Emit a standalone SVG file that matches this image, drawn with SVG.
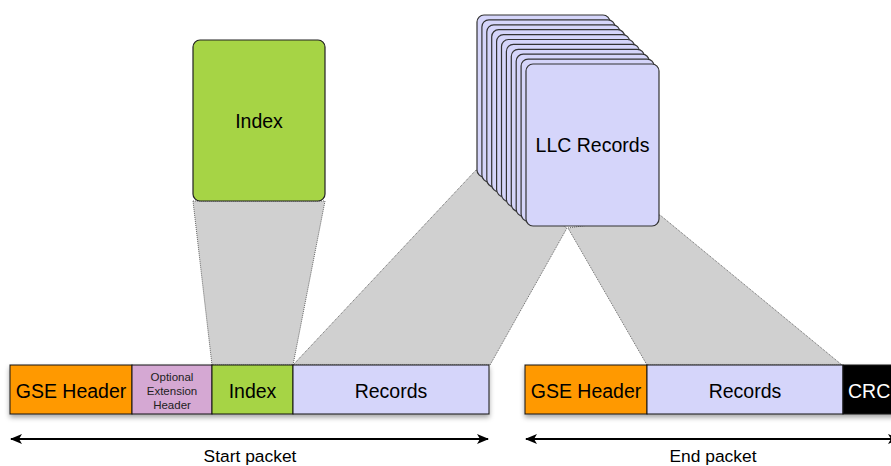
<svg xmlns="http://www.w3.org/2000/svg" width="891" height="466" viewBox="0 0 891 466">
<style>
text{font-family:"Liberation Sans",Arial,sans-serif;fill:#000;text-anchor:middle}
.big{font-size:19.5px}
.small{font-size:11.5px;fill:#222}
.lbl{font-size:17.4px}
.proj{fill:#d0d0d0;stroke:#666;stroke-width:1;stroke-dasharray:1 1}
.seg{stroke:#111;stroke-width:1}
.card{fill:#d5d5fa;stroke:#333;stroke-width:1.2}
.arrow{stroke:#000;stroke-width:2;fill:none}
</style>
<defs>
<filter id="sh" x="-5%" y="-20%" width="110%" height="160%">
<feDropShadow dx="0" dy="3" stdDeviation="2.5" flood-color="#000" flood-opacity="0.35"/>
</filter>
<marker id="ah" viewBox="0 0 12 10" refX="11" refY="5" markerWidth="12" markerHeight="10" markerUnits="userSpaceOnUse" orient="auto-start-reverse">
<path d="M0,0 L12,5 L0,10 L3,5 Z" fill="#000"/>
</marker>
</defs>

<g id="connectors">
<polygon class="proj" points="193,201 325,201 293,365 212,365"/>
<polygon class="proj" points="476,170 567,228 490,365 293,365"/>
<polygon class="proj" points="568,228 660,215 842,365 647,365"/>
</g>

<g id="index-box">
<rect x="193" y="40" width="132" height="161" rx="7" fill="#a6d445" stroke="#222" stroke-width="1.2"/>
<text class="big" x="259" y="128">Index</text>
</g>

<g id="llc-records">
<rect class="card" x="477" y="15" width="133" height="162" rx="7"/>
<rect class="card" x="481.9" y="19.9" width="133" height="162" rx="7"/>
<rect class="card" x="486.8" y="24.8" width="133" height="162" rx="7"/>
<rect class="card" x="491.7" y="29.7" width="133" height="162" rx="7"/>
<rect class="card" x="496.6" y="34.6" width="133" height="162" rx="7"/>
<rect class="card" x="501.5" y="39.5" width="133" height="162" rx="7"/>
<rect class="card" x="506.4" y="44.4" width="133" height="162" rx="7"/>
<rect class="card" x="511.3" y="49.3" width="133" height="162" rx="7"/>
<rect class="card" x="516.2" y="54.2" width="133" height="162" rx="7"/>
<rect class="card" x="521.1" y="59.1" width="133" height="162" rx="7"/>
<rect class="card" x="526" y="64" width="133" height="162" rx="7"/>
<text class="big" x="592.5" y="152">LLC Records</text>
</g>

<g id="start-packet" filter="url(#sh)">
<rect class="seg" x="10" y="365" width="122" height="49" fill="#ff9900"/>
<rect class="seg" x="132" y="365" width="80" height="49" fill="#d5a8d3"/>
<rect class="seg" x="212" y="365" width="81" height="49" fill="#a6d445"/>
<rect class="seg" x="293" y="365" width="196" height="49" fill="#d5d5fa"/>
</g>
<g id="start-labels">
<text class="big" x="71" y="397.5">GSE Header</text>
<text class="small" x="172" y="381">Optional</text>
<text class="small" x="172" y="395">Extension</text>
<text class="small" x="172" y="408.5">Header</text>
<text class="big" x="252.5" y="397.5">Index</text>
<text class="big" x="391" y="397.5">Records</text>
</g>

<g id="end-packet" filter="url(#sh)">
<rect class="seg" x="525" y="365" width="122" height="49" fill="#ff9900"/>
<rect class="seg" x="647" y="365" width="196" height="49" fill="#d5d5fa"/>
<rect class="seg" x="843" y="365" width="60" height="49" fill="#000"/>
</g>
<g id="end-labels">
<text class="big" x="586" y="397.5">GSE Header</text>
<text class="big" x="745" y="397.5">Records</text>
<text class="big" x="848" y="397.5" style="fill:#fff;text-anchor:start">CRC</text>
</g>

<g id="span-arrows">
<line class="arrow" x1="11" y1="439" x2="488" y2="439" marker-start="url(#ah)" marker-end="url(#ah)"/>
<text class="lbl" x="250" y="462">Start packet</text>
<line class="arrow" x1="526" y1="439" x2="899" y2="439" marker-start="url(#ah)" marker-end="url(#ah)"/>
<text class="lbl" x="713" y="462">End packet</text>
</g>
</svg>
